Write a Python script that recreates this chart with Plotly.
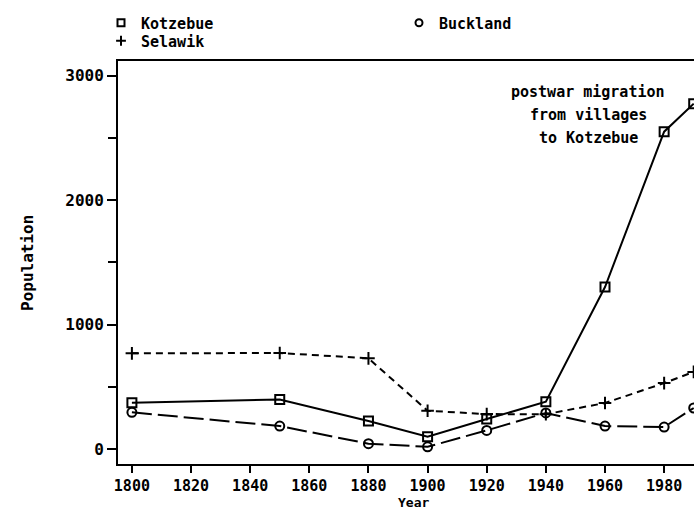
import plotly.graph_objects as go

years = [1800, 1850, 1880, 1900, 1920, 1940, 1960, 1980, 1990]
kotzebue = [372, 399, 225, 99, 241, 380, 1302, 2550, 2775]
selawik = [769, 772, 729, 308, 281, 280, 370, 530, 620]
buckland = [295, 185, 43, 18, 150, 290, 185, 177, 330]

x_ticks = [1800, 1820, 1840, 1860, 1880, 1900, 1920, 1940, 1960, 1980]
y_ticks = [0, 1000, 2000, 3000]
y_labels = ["0", "1000", "2000", "3000"]

FONT = "DejaVu Sans Mono"
W, H = 694, 512
L, R, T, B = 118, 0, 61, 48
PW, PH = W - L - R, H - T - B


def px(p):
    return (p - L) / PW


def py(p):
    return (H - B - p) / PH


fig = go.Figure()

series = [
    ("Kotzebue", kotzebue, "square-open", "solid", 9, "legend"),
    ("Selawik", selawik, "cross-thin-open", "7px,5px", 9, "legend2"),
    ("Buckland", buckland, "circle-open", "20px,6px", 9, "legend3"),
]

for name, vals, sym, dash, size, lg in series:
    fig.add_trace(go.Scatter(
        x=years, y=vals, mode="lines+markers", name=name, showlegend=False,
        line=dict(color="black", width=2, dash=dash),
        marker=dict(symbol=sym, size=size, color="black",
                    line=dict(color="black", width=2)),
    ))
    # legend-only marker entry
    fig.add_trace(go.Scatter(
        x=[None], y=[None], mode="markers", name=name, legend=lg,
        marker=dict(symbol=sym, size=7, color="black",
                    line=dict(color="black", width=2)),
    ))

leg_common = dict(bgcolor="rgba(0,0,0,0)", borderwidth=0,
                  font=dict(family=FONT, size=15, color="black", weight="bold"),
                  xanchor="left", yanchor="middle")

fig.update_layout(
    width=W, height=H,
    margin=dict(l=L, r=R, t=T, b=B, pad=0),
    paper_bgcolor="white", plot_bgcolor="white",
    font=dict(family=FONT, size=16, color="black", weight="bold"),
    legend=dict(x=px(101), y=py(23), **leg_common),
    legend2=dict(x=px(101), y=py(41), **leg_common),
    legend3=dict(x=px(399), y=py(23), **leg_common),
    xaxis=dict(
        range=[1795.3, 1990.1], tickvals=x_ticks, ticks="outside", ticklen=7,
        tickwidth=2, tickcolor="black", showline=True, linewidth=2,
        linecolor="black", mirror=True, showgrid=False, zeroline=False,
        tickfont=dict(family=FONT, size=15, color="black", weight="bold"),
    ),
    yaxis=dict(
        range=[-120, 3118], tickvals=y_ticks, ticktext=y_labels,
        ticks="outside", ticklen=9, tickwidth=2, tickcolor="black",
        showline=True, linewidth=2, linecolor="black", showgrid=False,
        zeroline=False,
        minor=dict(dtick=500, tick0=0, ticks="outside", ticklen=8,
                   tickwidth=2, tickcolor="black", showgrid=False),
        tickfont=dict(family=FONT, size=16, color="black", weight="bold"),
    ),
)

ann_font = dict(family=FONT, size=15, color="black", weight="bold")
for txt, yy in [("postwar migration", 92), ("from villages", 115), ("to Kotzebue", 138)]:
    fig.add_annotation(x=px(588), y=py(yy), xref="paper", yref="paper",
                       text=txt, showarrow=False, xanchor="center",
                       yanchor="middle", font=ann_font)

fig.add_annotation(x=px(413), y=py(503), xref="paper", yref="paper",
                   text="Year", showarrow=False, xanchor="center",
                   yanchor="middle", font=dict(family=FONT, size=13, color="black", weight="bold"))
fig.add_annotation(x=px(27), y=py(263), xref="paper", yref="paper",
                   text="Population", showarrow=False, textangle=-90,
                   xanchor="center", yanchor="middle",
                   font=dict(family=FONT, size=16, color="black", weight="bold"))

fig.write_html(
    "out.html",
    config={"displayModeBar": False},
    post_script="document.body.style.margin='0';document.documentElement.style.overflow='hidden';document.body.style.overflow='hidden';",
)
